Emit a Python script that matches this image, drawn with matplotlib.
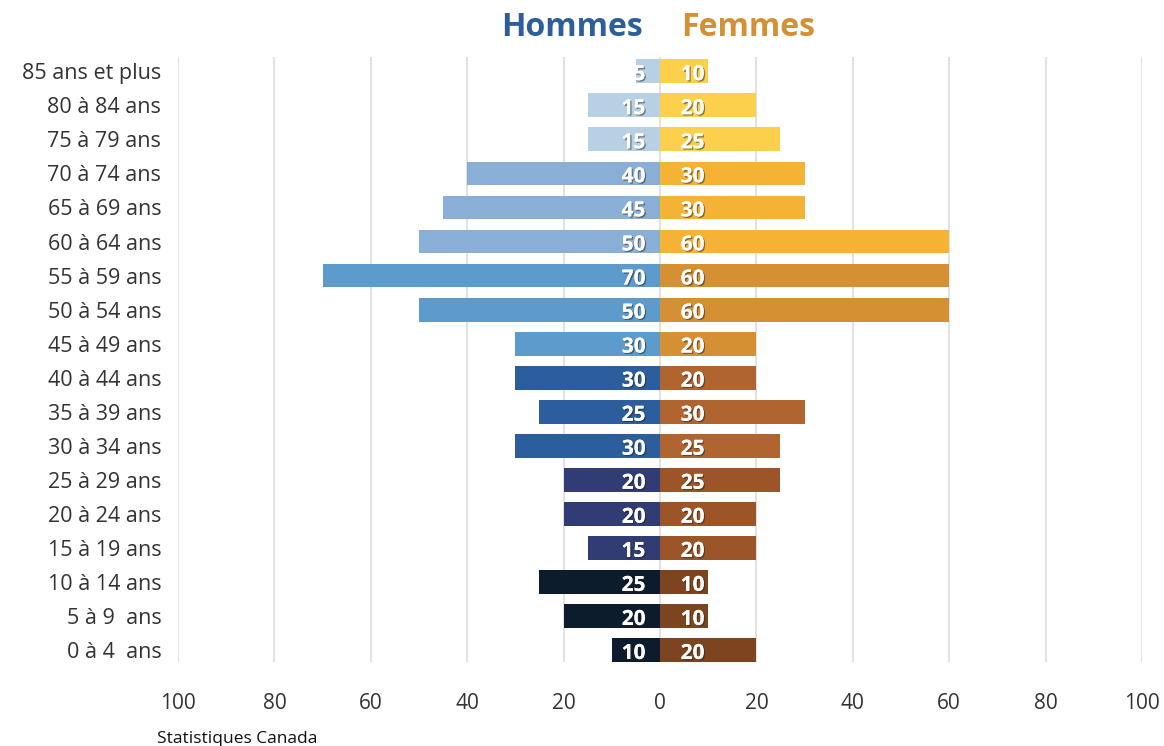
import matplotlib
matplotlib.use("Agg")
import matplotlib.pyplot as plt
import matplotlib.patheffects as pe
import matplotlib.transforms as mtransforms
import numpy as np

plt.rcParams['font.family'] = ['Open Sans', 'DejaVu Sans']

ages = ["0 à 4  ans", "5 à 9  ans", "10 à 14 ans", "15 à 19 ans", "20 à 24 ans",
        "25 à 29 ans", "30 à 34 ans", "35 à 39 ans", "40 à 44 ans", "45 à 49 ans",
        "50 à 54 ans", "55 à 59 ans", "60 à 64 ans", "65 à 69 ans", "70 à 74 ans",
        "75 à 79 ans", "80 à 84 ans", "85 ans et plus"]
hommes = [10, 20, 25, 15, 20, 20, 30, 25, 30, 30, 50, 70, 50, 45, 40, 15, 15, 5]
femmes = [20, 10, 10, 20, 20, 25, 25, 30, 20, 20, 60, 60, 60, 30, 30, 25, 20, 10]

colors_h = ["#0C1C2C", "#0C1C2C", "#0C1C2C", "#323C74", "#323C74", "#323C74",
            "#2C5E9D", "#2C5E9D", "#2C5E9D", "#5C9BCB", "#5C9BCB", "#5C9BCB",
            "#8AAFD6", "#8AAFD6", "#8AAFD6", "#B8D0E4", "#B8D0E4", "#B8D0E4"]
colors_f = ["#7D451F", "#7D451F", "#7D451F", "#9C5528", "#9C5528", "#9C5528",
            "#B06531", "#B06531", "#B06531", "#D69034", "#D69034", "#D69034",
            "#F4B334", "#F4B334", "#F4B334", "#FCD04B", "#FCD04B", "#FCD04B"]

xticks = [-100, -80, -60, -40, -20, 0, 20, 40, 60, 80, 100]

fig = plt.figure(figsize=(11.64, 7.46), dpi=100)
ax = fig.add_axes([0.1529, 0.1126, 0.8282, 0.811])

y = np.arange(len(ages))
ax.barh(y, [-v for v in hommes], height=0.7, color=colors_h, zorder=2)
ax.barh(y, femmes, height=0.7, color=colors_f, zorder=2)

shadow = [pe.withSimplePatchShadow(offset=(1.0, -1.0), shadow_rgbFace='#222222', alpha=0.5), pe.Normal()]
for yi, h, f in zip(y, hommes, femmes):
    ax.text(-3, yi - 0.1, str(h), ha='right', va='center', color='white',
            fontsize=15, fontweight='bold', zorder=3, path_effects=shadow)
    ax.text(4.3, yi - 0.1, str(f), ha='left', va='center', color='white',
            fontsize=15, fontweight='bold', zorder=3, path_effects=shadow)

ax.set_xlim(-100, 100)
ax.set_ylim(-0.35, 17.42)
ax.set_xticks(xticks)
ax.set_xticklabels([str(abs(t)) for t in xticks], fontsize=15, color='#333333')
ax.set_yticks(y)
ax.set_yticklabels(ages, fontsize=15.5, color='#333333')
offset = mtransforms.ScaledTranslation(0, 3 / 100, fig.dpi_scale_trans)
for lbl in ax.get_yticklabels():
    lbl.set_transform(lbl.get_transform() + offset)
ax.tick_params(axis='x', length=0, pad=22)
ax.tick_params(axis='y', length=0, pad=12)
ax.grid(axis='x', color='#E2E2E2', linewidth=1.5, zorder=0)
ax.set_axisbelow(True)
for s in ax.spines.values():
    s.set_visible(False)

fig.text(0.552, 0.963, "Hommes", ha='right', va='center', fontsize=23,
         fontweight='bold', color='#2C5E9D')
fig.text(0.585, 0.963, "Femmes", ha='left', va='center', fontsize=23,
         fontweight='bold', color='#D69034')
fig.text(0.135, 0.01, "Statistiques Canada", ha='left', va='center', fontsize=12.5,
         color='#111111')

fig.savefig("out.png", dpi=100)
